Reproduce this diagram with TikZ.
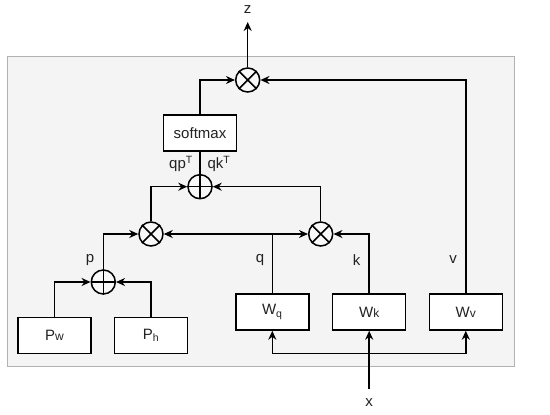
\documentclass[tikz,border=0pt]{standalone}
\usepackage{fontspec}
\setmainfont{Liberation Sans}
\usetikzlibrary{arrows.meta}
\definecolor{txt}{HTML}{222222}
\tikzset{
  x=1pt,y=1pt,
  ln/.style={line width=1.5pt,draw=black},
  arr/.style={ln,-{Stealth[length=9pt,width=8pt]}},
  opcirc/.style={circle,draw,line width=1.5pt,minimum size=24pt,inner sep=0pt,fill=gray!5},
  blk/.style={rectangle,draw,line width=1.5pt,fill=white,minimum width=73pt,minimum height=36pt,inner sep=0pt,text=txt,font=\fontsize{15}{17}\selectfont},
  lbl/.style={font=\fontsize{15}{17}\selectfont,inner sep=0pt,text=txt}
}
\newcommand{\multop}[1]{\draw[ln] (#1.45)--(#1.225) (#1.135)--(#1.315);}
\newcommand{\plusop}[1]{\draw[ln] (#1.north)--(#1.south) (#1.east)--(#1.west);}
\begin{document}
\begin{tikzpicture}
\useasboundingbox (0,0) rectangle (550,-415);
\draw[fill=gray!9,draw=gray!60,line width=1pt] (7,-56) rectangle (514,-366);
% operators
\node[opcirc] (m0) at (247.7,-80) {};
\node[opcirc] (pa) at (200,-186.7) {};
\node[opcirc] (m1) at (151,-234) {};
\node[opcirc] (m2) at (320.7,-234) {};
\node[opcirc] (pp) at (103.3,-282) {};
\multop{m0}\multop{m1}\multop{m2}
\plusop{pa}\plusop{pp}
% blocks
\node[blk] (sm) at (200,-133) {softmax};
\node[blk] (pw) at (54.5,-335.5) {P{\fontsize{12}{13}\selectfont w}};
\node[blk] (ph) at (151,-335.5) {P\textsubscript{h}};
\node[blk] (wq) at (272.3,-312) {W\textsubscript{q}};
\node[blk] (wk) at (369.2,-312) {W{\fontsize{12}{13}\selectfont k}};
\node[blk] (wv) at (465.8,-312) {W{\fontsize{12}{13}\selectfont v}};
% coordinates
\coordinate (zc) at (247.7,-22);
\coordinate (xs) at (369.2,-389);
\coordinate (xj) at (369.2,-353.3);
\coordinate (qj) at (wq.north |- m1);
% connectors
\draw[arr] (m0.north) -- (zc);
\draw[arr] (sm.north) |- (m0.west);
\draw[arr] (wv.north) |- (m0.east);
\draw[ln] (sm.south) -- (pa.north);
\draw[arr] (m1.north) |- (pa.west);
\draw[arr] (m2.north) |- (pa.east);
\draw[ln] (wq.north) -- (qj);
\draw[arr] (qj) -- (m1.east);
\draw[arr] (qj) -- (m2.west);
\draw[arr] (wk.north) |- (m2.east);
\draw[arr] (pp.north) |- (m1.west);
\draw[arr] (pw.north) |- (pp.west);
\draw[arr] (ph.north) |- (pp.east);
\draw[arr] (xs) -- (wk.south);
\draw[arr] (xj) -| (wq.south);
\draw[arr] (xj) -| (wv.south);
% labels
\node[lbl] (lz) at (247.7,-10) {z};
\node[lbl] (lx) at (369.2,-403) {x};
\node[lbl] (lp) at (90,-260) {p};
\node[lbl] (lq) at (260,-260) {q};
\node[lbl] (lk) at (356.7,-260) {k};
\node[lbl] (lv) at (453,-260) {v};
\node[lbl] (lqp) at (181,-164) {qp\textsuperscript{T}};
\node[lbl] (lqk) at (219,-164) {qk\textsuperscript{T}};
\end{tikzpicture}
\end{document}
